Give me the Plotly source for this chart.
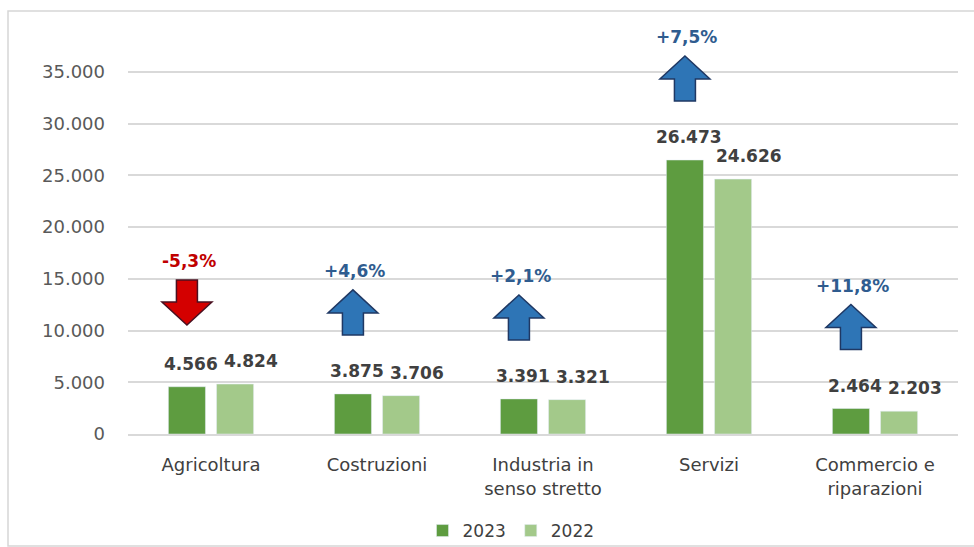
import plotly.graph_objects as go

# Occupati per settore (migliaia), 2023 vs 2022
categories = ["Agricoltura", "Costruzioni", "Industria in<br>senso stretto",
              "Servizi", "Commercio e<br>riparazioni"]
values_2023 = [4566, 3875, 3391, 26473, 2464]
values_2022 = [4824, 3706, 3321, 24626, 2203]
y_ticks = [0, 5000, 10000, 15000, 20000, 25000, 30000, 35000]


def it_num(v):
    return f"{v:,.0f}".replace(",", ".")


def it_pct(p):
    return f"{p:+.1f}%".replace(".", ",")


W, H = 974, 547
M_L, M_R, M_T, M_B = 128, 16, 20, 113
Y_MAX = 40000
plot_w = W - M_L - M_R
plot_h = H - M_T - M_B
px_x = plot_w / len(categories)      # pixels per category unit
px_y = plot_h / Y_MAX                 # pixels per value unit

C23 = "#5E9C40"
C22 = "#A3C98A"
FONT = "DejaVu Sans"

xs = list(range(len(categories)))

fig = go.Figure()
fig.add_bar(name="2023", x=xs, y=values_2023, marker_color=C23,
            hoverinfo="skip")
fig.add_bar(name="2022", x=xs, y=values_2022, marker_color=C22,
            hoverinfo="skip")

BARGAP = 0.42
GROUPGAP = 0.23
slot = (1 - BARGAP) / 2
off23 = -slot / 2
off22 = slot / 2

annotations = []
shapes = []

# value labels above bars
for i in xs:
    for v, off, dx in ((values_2023[i], off23, 4), (values_2022[i], off22, 16)):
        annotations.append(dict(
            x=i + off, y=v, xref="x", yref="y", text=it_num(v),
            showarrow=False, yanchor="middle", yshift=23, xshift=dx,
            font=dict(family=FONT, size=17, color="#404040", weight="bold"),
        ))

# change arrows over each group
hw = 25 / px_x      # head half-width
sw = 10.5 / px_x    # shaft half-width
hh = 23 / px_y      # head height
sh = 22 / px_y      # shaft height
gap = 59 / px_y
for i in xs:
    a, b = values_2023[i], values_2022[i]
    pct = (a - b) / b * 100
    cx = i + off23
    y0 = max(a, b) + gap
    y1 = y0 + sh + hh
    if pct >= 0:
        pts = [(cx - sw, y0), (cx + sw, y0), (cx + sw, y0 + sh), (cx + hw, y0 + sh),
               (cx, y1), (cx - hw, y0 + sh), (cx - sw, y0 + sh)]
        fill, edge, tcol = "#2E75B6", "#1F3864", "#2F5C8F"
    else:
        pts = [(cx - sw, y1), (cx + sw, y1), (cx + sw, y1 - sh), (cx + hw, y1 - sh),
               (cx, y0), (cx - hw, y1 - sh), (cx - sw, y1 - sh)]
        fill, edge, tcol = "#D40000", "#4A1020", "#C00000"
    path = "M " + " L ".join(f"{x:.5f},{y:.2f}" for x, y in pts) + " Z"
    shapes.append(dict(type="path", path=path, xref="x", yref="y",
                       fillcolor=fill, line=dict(color=edge, width=1.5)))
    annotations.append(dict(
        x=cx, y=y1, xref="x", yref="y", text=it_pct(pct), showarrow=False,
        yanchor="middle", yshift=19, xshift=2,
        font=dict(family=FONT, size=17, color=tcol, weight="bold"),
    ))


# outer chart frame
def px2paper_x(p):
    return (p - M_L) / plot_w


def px2paper_y(p):
    return (H - M_B - p) / plot_h


shapes.append(dict(type="path", xref="paper", yref="paper",
                   path=f"M {px2paper_x(W + 5)},{px2paper_y(11)} L {px2paper_x(8)},{px2paper_y(11)} "
                        f"L {px2paper_x(8)},{px2paper_y(546)} L {px2paper_x(W + 5)},{px2paper_y(546)}",
                   line=dict(color="#D6D6D6", width=1.5), layer="below"))

fig.update_layout(
    width=W, height=H,
    margin=dict(l=M_L, r=M_R, t=M_T, b=M_B, autoexpand=False),
    paper_bgcolor="white", plot_bgcolor="white",
    barmode="group", bargap=BARGAP, bargroupgap=GROUPGAP,
    font=dict(family=FONT, color="#404040"),
    showlegend=True,
    legend=dict(orientation="h", x=px2paper_x(511), xanchor="center",
                y=px2paper_y(531), yanchor="middle",
                bgcolor="rgba(0,0,0,0)",
                font=dict(family=FONT, size=17, color="#404040"),
                itemwidth=30, traceorder="normal"),
    xaxis=dict(range=[-0.5, len(categories) - 0.5], tickvals=xs, ticktext=categories,
               showgrid=False, zeroline=False, showline=True,
               linecolor="#D9D9D9", linewidth=1.5, ticks="",
               tickfont=dict(family=FONT, size=18, color="#404040"),
               ticklabelstandoff=14),
    yaxis=dict(range=[0, Y_MAX], tickvals=y_ticks,
               ticktext=[it_num(v) for v in y_ticks],
               showgrid=True, gridcolor="#D9D9D9", gridwidth=1.5,
               zeroline=False, showline=False, ticks="",
               tickfont=dict(family=FONT, size=18, color="#595959"),
               ticklabelstandoff=22),
    shapes=shapes, annotations=annotations,
)

fig.write_html("out.html")
